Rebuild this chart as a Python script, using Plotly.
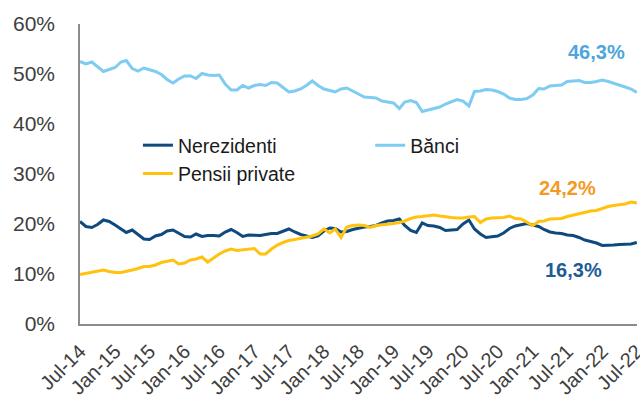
import pandas as pd
import plotly.graph_objects as go

months = pd.date_range("2014-07-01", periods=97, freq="MS")

tick_labels = ["Jul-14", "Jan-15", "Jul-15", "Jan-16", "Jul-16", "Jan-17", "Jul-17",
               "Jan-18", "Jul-18", "Jan-19", "Jul-19", "Jan-20", "Jul-20", "Jan-21",
               "Jul-21", "Jan-22", "Jul-22"]

banci = [52.5, 52.0, 52.4, 51.5, 50.5, 50.9, 51.3, 52.4, 52.7, 51.1,
         50.6, 51.2, 50.9, 50.5, 49.9, 48.9, 48.2, 49.0, 49.6, 49.6,
         49.1, 50.1, 49.8, 49.7, 49.8, 48.0, 46.8, 46.8, 47.7, 47.2,
         47.7, 47.9, 47.7, 48.3, 48.2, 47.2, 46.4, 46.6, 47.0, 47.7,
         48.6, 47.7, 47.0, 46.7, 46.4, 47.0, 47.2, 46.6, 46.0, 45.4,
         45.3, 45.2, 44.6, 44.4, 44.2, 43.1, 44.4, 44.7, 44.3, 42.5,
         42.8, 43.1, 43.4, 44.0, 44.5, 44.9, 44.6, 43.6, 46.5, 46.6,
         46.9, 46.8, 46.5, 46.0, 45.2, 44.9, 44.9, 45.1, 45.8, 47.1,
         47.0, 47.6, 47.7, 47.8, 48.5, 48.6, 48.7, 48.3, 48.3, 48.5,
         48.8, 48.5, 48.2, 47.8, 47.4, 47.0, 46.3]

nerezidenti = [20.5, 19.5, 19.3, 19.9, 20.8, 20.5, 19.8, 19.0, 18.3, 18.8,
               17.9, 17.0, 16.9, 17.6, 17.9, 18.6, 18.8, 18.1, 17.5, 17.4,
               18.0, 17.5, 17.7, 17.7, 17.6, 18.4, 18.9, 18.3, 17.5, 17.8,
               17.7, 17.7, 17.9, 18.1, 18.1, 18.6, 19.0, 18.4, 17.9, 17.6,
               17.3, 17.6, 18.6, 19.2, 19.1, 18.4, 18.5, 18.9, 19.2, 19.4,
               19.5, 19.7, 20.2, 20.6, 20.7, 21.0, 19.7, 18.7, 18.3, 20.2,
               19.7, 19.6, 19.3, 18.7, 18.8, 18.9, 20.0, 20.8, 19.0, 18.0,
               17.3, 17.5, 17.6, 18.2, 19.1, 19.6, 19.9, 20.1, 19.8, 19.5,
               18.9, 18.4, 18.2, 18.1, 17.8, 17.7, 17.3, 16.8, 16.5, 16.2,
               15.7, 15.7, 15.8, 15.9, 15.9, 16.0, 16.3]

pensii = [9.9, 10.1, 10.4, 10.6, 10.8, 10.5, 10.3, 10.3, 10.5, 10.8,
          11.1, 11.5, 11.5, 11.8, 12.3, 12.6, 12.8, 12.0, 12.2, 12.8,
          13.0, 13.4, 12.4, 13.2, 14.0, 14.6, 15.0, 14.7, 14.8, 15.0,
          15.1, 14.0, 14.0, 15.0, 15.8, 16.3, 16.7, 16.9, 17.1, 17.4,
          17.6, 18.0, 19.0, 18.2, 19.0, 17.3, 19.4, 19.7, 19.8, 19.7,
          19.3, 19.7, 19.8, 19.9, 20.1, 20.3, 20.6, 21.1, 21.4, 21.5,
          21.6, 21.8, 21.6, 21.4, 21.3, 21.2, 21.2, 21.4, 21.5, 20.3,
          21.0, 21.2, 21.2, 21.3, 21.6, 21.1, 21.0, 20.4, 19.7, 20.5,
          20.6, 21.0, 21.1, 21.1, 21.5, 21.8, 22.1, 22.4, 22.6, 22.7,
          23.1, 23.5, 23.7, 23.9, 24.0, 24.4, 24.2]

C_NER = "#0E4A7E"
C_BAN = "#7FCCF2"
C_PEN = "#FFC20E"
FONT = "Liberation Sans, Arial, sans-serif"

fig = go.Figure()
fig.add_trace(go.Scatter(x=months, y=nerezidenti, mode="lines", name="Nerezidenti",
                         line=dict(color=C_NER, width=3), legend="legend"))
fig.add_trace(go.Scatter(x=months, y=banci, mode="lines", name="Bănci",
                         line=dict(color=C_BAN, width=3), legend="legend2"))
fig.add_trace(go.Scatter(x=months, y=pensii, mode="lines", name="Pensii private",
                         line=dict(color=C_PEN, width=3), legend="legend"))

def fmt(v):
    return f"{v:.1f}".replace(".", ",") + "%"

fig.add_annotation(x=months[89], y=54.4, text=f"<b>{fmt(banci[-1])}</b>", showarrow=False,
                   font=dict(family=FONT, size=20, color="#4EA6DC"))
fig.add_annotation(x=months[84], y=27.2, text=f"<b>{fmt(pensii[-1])}</b>", showarrow=False,
                   font=dict(family=FONT, size=20, color="#F39A26"))
fig.add_annotation(x=months[85], y=10.8, text=f"<b>{fmt(nerezidenti[-1])}</b>", showarrow=False,
                   font=dict(family=FONT, size=20, color="#1F5C96"))

fig.update_layout(
    width=640, height=403,
    margin=dict(l=80, r=3, t=24, b=79, autoexpand=False),
    paper_bgcolor="white", plot_bgcolor="white",
    font=dict(family=FONT, size=20, color="#404040"),
    showlegend=True,
    legend=dict(x=0.104, y=0.66, xanchor="left", yanchor="top",
                font=dict(family=FONT, size=19.5, color="#1A1A1A"),
                bgcolor="rgba(0,0,0,0)", tracegroupgap=0),
    legend2=dict(x=0.521, y=0.66, xanchor="left", yanchor="top",
                 font=dict(family=FONT, size=19.5, color="#1A1A1A"),
                 bgcolor="rgba(0,0,0,0)"),
)

fig.update_xaxes(
    range=[months[0], months[-1] + pd.Timedelta(days=1)],
    tickvals=months[::6], ticktext=tick_labels,
    tickangle=-45, showgrid=False, zeroline=False,
    showline=True, linecolor="#8C8C8C", linewidth=1.5,
    ticks="", ticklabelstandoff=6, automargin=False,
    ticklabeloverflow="allow",
    tickfont=dict(family=FONT, size=20, color="#404040"),
)
fig.update_yaxes(
    range=[0, 60], dtick=10, ticksuffix="%",
    showgrid=False, zeroline=False,
    showline=True, linecolor="#8C8C8C", linewidth=1.5,
    ticks="", ticklabelstandoff=19, automargin=False,
    tickfont=dict(family=FONT, size=21, color="#404040"),
)

fig.write_html(
    "out.html",
    config={"displayModeBar": False},
    post_script="document.body.style.margin='0';document.body.style.overflow='hidden';",
)
